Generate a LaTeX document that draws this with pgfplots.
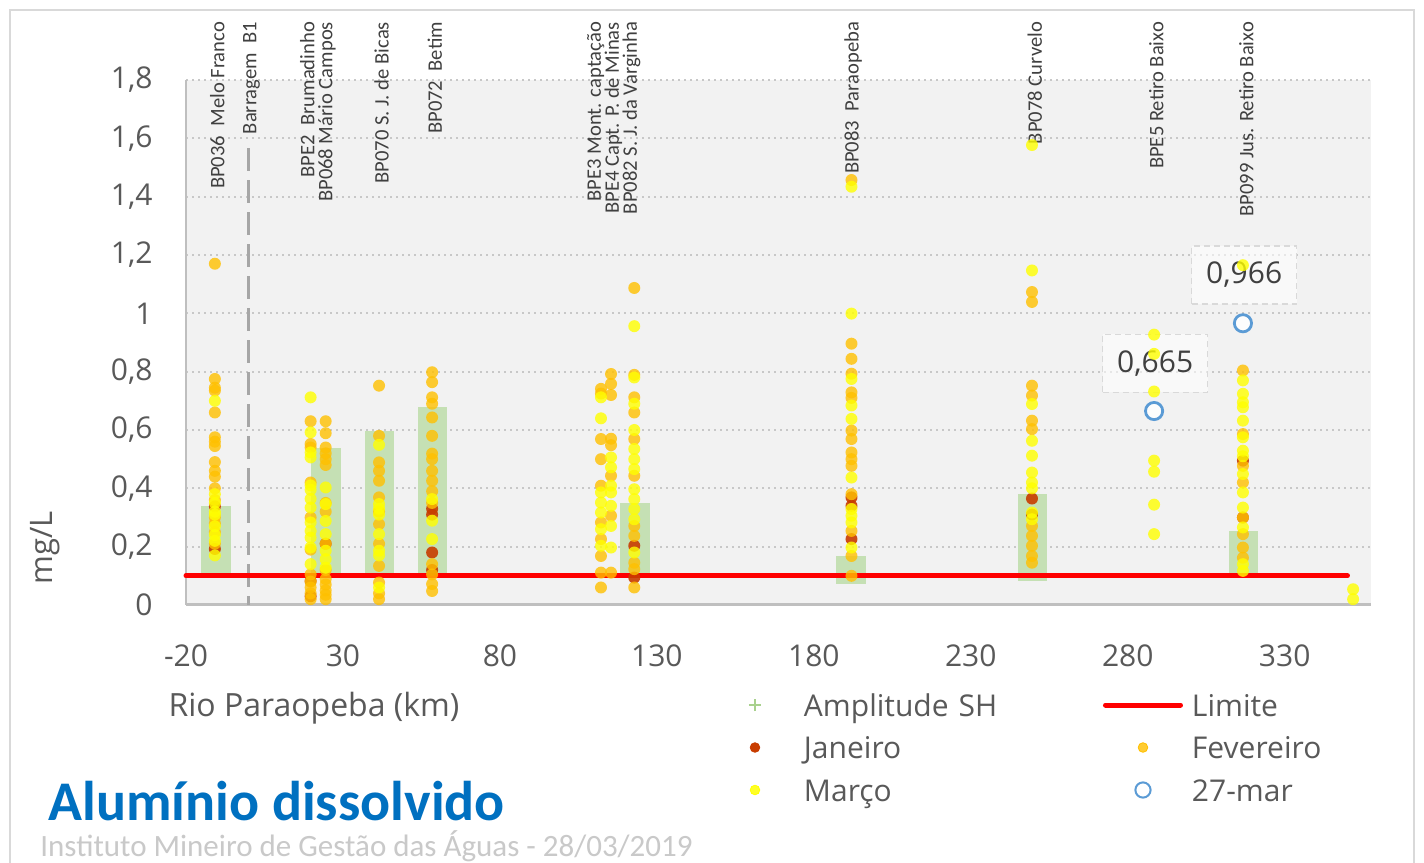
\documentclass[border=0pt]{standalone}
\usepackage{fontspec}
\setmainfont{Open Sans}
\newfontfamily\calib{Carlito}
\usepackage{pgfplots}
\pgfplotsset{compat=1.18}
\definecolor{plotbg}{HTML}{F2F2F2}
\definecolor{gridgray}{HTML}{C8C8C8}
\definecolor{axisgray}{HTML}{BFBFBF}
\definecolor{labelgray}{HTML}{595959}
\definecolor{darktext}{HTML}{404040}
\definecolor{ampgreen}{HTML}{C5E0B4}
\definecolor{ampgreenD}{HTML}{A9D18E}
\definecolor{jancol}{HTML}{C83C00}
\definecolor{fevcol}{HTML}{FFC000}
\definecolor{marcol}{HTML}{FFFF00}
\definecolor{mar27}{HTML}{5B9BD5}
\definecolor{limred}{HTML}{FF0000}
\definecolor{dashgray}{HTML}{A6A6A6}
\definecolor{boxgray}{HTML}{D9D9D9}
\definecolor{titleblue}{HTML}{0070C0}
\definecolor{footgray}{HTML}{C9C9C9}
\definecolor{bordergray}{HTML}{D9D9D9}
\begin{document}
\begin{tikzpicture}
\useasboundingbox (0,0) rectangle (712pt,431pt);
\fill[white] (0,0) rectangle (712pt,431pt);
\draw[bordergray, line width=1pt] (5pt,-5pt) -- (5pt,425.75pt) -- (707pt,425.75pt) -- (707pt,-5pt);
\begin{axis}[
  scale only axis, width=592.5pt, height=262.5pt,
  at={(93pt,128.5pt)}, anchor=south west,
  xmin=-20, xmax=357.5, ymin=0, ymax=1.8,
  axis x line*=bottom, axis y line*=left,
  x axis line style={-, draw=axisgray, line width=1.5pt},
  y axis line style={-, draw=axisgray, line width=1pt},
  axis background/.style={fill=plotbg},
  xtick={-20,30,80,130,180,230,280,330},
  ytick={0,0.2,0.4,0.6,0.8,1,1.2,1.4,1.6,1.8},
  ymajorgrids,
  major grid style={draw=gridgray, line width=1pt, dash pattern=on 1pt off 2pt},
  major tick length=0pt, tick style={draw=none},
  ticklabel style={font=\fontsize{15}{18}\selectfont, text=labelgray},
  yticklabel style={anchor=east, inner sep=0pt, xshift=-16.5pt},
  xticklabel style={anchor=north, inner sep=0pt, yshift=-19.5pt},
  /pgf/number format/.cd, use comma, assume math mode=true, /pgfplots/.cd,
  xlabel={Rio Paraopeba (km)},
  xlabel style={at={(axis description cs:0.108,-0.196)}, anchor=center, font=\fontsize{16}{19}\selectfont, text=labelgray},
  ylabel={mg/L},
  ylabel style={at={(axis description cs:-0.119,0.1086)}, anchor=center, font=\fontsize{15.5}{18}\selectfont, text=labelgray},
  clip=false,
  legend columns=2,
  legend cell align=left,
  legend style={at={(axis description cs:0.4464,-0.16)}, anchor=north west,
    draw=none, fill=none, inner sep=0pt, outer sep=0pt,
    font=\fontsize{15}{18}\selectfont,
    column sep=0pt, row sep=5.25pt,
    nodes={inner sep=0pt, text height=13.5pt, text depth=2.5pt, text width=149.5pt, align=left, text=labelgray}},
]
% Amplitude SH (range bars)
\addplot[fill=ampgreen, draw=none, forget plot] coordinates {(-15.2,0.10) (-5.8,0.10) (-5.8,0.340) (-15.2,0.340)};
\addplot[fill=ampgreen, draw=none, forget plot] coordinates {(19.9,0.10) (29.3,0.10) (29.3,0.537) (19.9,0.537)};
\addplot[fill=ampgreen, draw=none, forget plot] coordinates {(36.9,0.10) (46.3,0.10) (46.3,0.595) (36.9,0.595)};
\addplot[fill=ampgreen, draw=none, forget plot] coordinates {(53.9,0.10) (63.3,0.10) (63.3,0.678) (53.9,0.678)};
\addplot[fill=ampgreen, draw=none, forget plot] coordinates {(118.3,0.10) (127.7,0.10) (127.7,0.351) (118.3,0.351)};
\addplot[fill=ampgreen, draw=none, forget plot] coordinates {(187.2,0.072) (196.6,0.072) (196.6,0.168) (187.2,0.168)};
\addplot[fill=ampgreen, draw=none, forget plot] coordinates {(245.0,0.082) (254.4,0.082) (254.4,0.382) (245.0,0.382)};
\addplot[fill=ampgreen, draw=none, forget plot] coordinates {(312.2,0.10) (321.6,0.10) (321.6,0.252) (312.2,0.252)};
% Barragem B1
\addplot[dashgray, line width=1.6pt, dash pattern=on 11.5pt off 4.5pt, forget plot] coordinates {(0,1.566) (0,0)};
% Janeiro
\addplot[color=jancol, only marks, mark=*, mark size=3pt, mark options={draw opacity=0, fill=jancol, fill opacity=0.9}, forget plot] coordinates {
(-10.8,0.338) (-10.8,0.192) (19.7,0.082) (19.7,0.030) (24.5,0.210)
(58.4,0.330) (58.4,0.310) (58.4,0.180) (58.4,0.120)
(122.8,0.203) (122.8,0.094) (192,0.369) (192,0.340) (192,0.226)
(249.5,0.365) (249.5,0.310) (316.7,0.495) (316.7,0.300)};
% Fevereiro
\addplot[color=fevcol, only marks, mark=*, mark size=3pt, mark options={draw opacity=0, fill=fevcol, fill opacity=0.8}, forget plot] coordinates {
(-10.8,1.170) (-10.8,0.775) (-10.8,0.745) (-10.8,0.735) (-10.8,0.660) (-10.8,0.575) (-10.8,0.560) (-10.8,0.545) (-10.8,0.490) (-10.8,0.460) (-10.8,0.440) (-10.8,0.400) (-10.8,0.360) (-10.8,0.300) (-10.8,0.280) (-10.8,0.250) (-10.8,0.210)
(19.7,0.630) (19.7,0.552) (19.7,0.540) (19.7,0.420) (19.7,0.300) (19.7,0.190) (19.7,0.105) (19.7,0.080) (19.7,0.060) (19.7,0.040) (19.7,0.020)
(24.5,0.630) (24.5,0.589) (24.5,0.540) (24.5,0.520) (24.5,0.500) (24.5,0.480) (24.5,0.350) (24.5,0.320) (24.5,0.210) (24.5,0.120) (24.5,0.089) (24.5,0.070) (24.5,0.050) (24.5,0.035) (24.5,0.020)
(41.5,0.752) (41.5,0.580) (41.5,0.489) (41.5,0.460) (41.5,0.426) (41.5,0.369) (41.5,0.320) (41.5,0.277) (41.5,0.210) (41.5,0.134) (41.5,0.077) (41.5,0.040) (41.5,0.020)
(58.4,0.798) (58.4,0.764) (58.4,0.712) (58.4,0.690) (58.4,0.643) (58.4,0.580) (58.4,0.519) (58.4,0.500) (58.4,0.460) (58.4,0.426) (58.4,0.390) (58.4,0.350) (58.4,0.140) (58.4,0.105) (58.4,0.072) (58.4,0.048)
(112.2,0.741) (112.2,0.725) (112.2,0.569) (112.2,0.500) (112.2,0.409) (112.2,0.283) (112.2,0.226) (112.2,0.168) (112.2,0.111) (112.2,0.060)
(115.4,0.792) (115.4,0.758) (115.4,0.720) (115.4,0.570) (115.4,0.548) (115.4,0.443) (115.4,0.306) (115.4,0.111)
(122.8,1.087) (122.8,0.789) (122.8,0.712) (122.8,0.660) (122.8,0.569) (122.8,0.443) (122.8,0.271) (122.8,0.237) (122.8,0.145) (122.8,0.123) (122.8,0.060)
(192,1.457) (192,0.896) (192,0.844) (192,0.793) (192,0.729) (192,0.710) (192,0.598) (192,0.569) (192,0.523) (192,0.500) (192,0.477) (192,0.380) (192,0.254) (192,0.168) (192,0.100)
(249.5,1.073) (249.5,1.039) (249.5,0.752) (249.5,0.718) (249.5,0.632) (249.5,0.603) (249.5,0.271) (249.5,0.237) (249.5,0.203) (249.5,0.168) (249.5,0.145)
(316.7,0.804) (316.7,0.586) (316.7,0.477) (316.7,0.420) (316.7,0.300) (316.7,0.243) (316.7,0.197) (316.7,0.162)};
% Marco
\addplot[color=marcol, only marks, mark=*, mark size=3pt, mark options={draw opacity=0, fill=marcol, fill opacity=0.8}, forget plot] coordinates {
(-10.8,0.700) (-10.8,0.380) (-10.8,0.350) (-10.8,0.320) (-10.8,0.310) (-10.8,0.270) (-10.8,0.240) (-10.8,0.220) (-10.8,0.170)
(19.7,0.712) (19.7,0.592) (19.7,0.523) (19.7,0.506) (19.7,0.410) (19.7,0.395) (19.7,0.364) (19.7,0.334) (19.7,0.283) (19.7,0.254) (19.7,0.231) (19.7,0.197) (19.7,0.140)
(24.5,0.403) (24.5,0.346) (24.5,0.288) (24.5,0.243) (24.5,0.186) (24.5,0.157) (24.5,0.128)
(41.5,0.549) (41.5,0.346) (41.5,0.330) (41.5,0.310) (41.5,0.243) (41.5,0.186) (41.5,0.170) (41.5,0.060)
(58.4,0.363) (58.4,0.289) (58.4,0.226)
(112.2,0.712) (112.2,0.640) (112.2,0.386) (112.2,0.351) (112.2,0.317) (112.2,0.260) (112.2,0.203)
(115.4,0.506) (115.4,0.472) (115.4,0.409) (115.4,0.386) (115.4,0.340) (115.4,0.271) (115.4,0.197)
(122.8,0.956) (122.8,0.780) (122.8,0.690) (122.8,0.600) (122.8,0.535) (122.8,0.500) (122.8,0.466) (122.8,0.397) (122.8,0.363) (122.8,0.329) (122.8,0.294) (122.8,0.180)
(192,1.434) (192,0.999) (192,0.775) (192,0.684) (192,0.638) (192,0.437) (192,0.329) (192,0.306) (192,0.283) (192,0.197)
(249.5,1.577) (249.5,1.147) (249.5,0.689) (249.5,0.563) (249.5,0.512) (249.5,0.454) (249.5,0.420) (249.5,0.400) (249.5,0.317) (249.5,0.294)
(288.4,0.927) (288.4,0.861) (288.4,0.732) (288.4,0.495) (288.4,0.457) (288.4,0.344) (288.4,0.243)
(316.7,1.165) (316.7,0.770) (316.7,0.724) (316.7,0.695) (316.7,0.678) (316.7,0.632) (316.7,0.575) (316.7,0.529) (316.7,0.510) (316.7,0.449) (316.7,0.386) (316.7,0.334) (316.7,0.266) (316.7,0.140) (316.7,0.117)
(351.8,0.054) (351.8,0.020)};
% Limite
\addplot[limred, line width=2.5pt, line cap=round, forget plot] coordinates {(-20,0.1) (350,0.1)};
% 27-mar
\addplot[color=mar27, only marks, mark=*, mark size=4.3pt, mark options={draw=mar27, fill=white, fill opacity=0.9, line width=1.4pt}, forget plot] coordinates {(288.4,0.665) (316.7,0.966)};
% data labels
\node[draw=boxgray, dash pattern=on 3pt off 2pt, line width=0.75pt, fill=white, fill opacity=0.55, text opacity=1, minimum width=52.5pt, minimum height=29pt, inner sep=0pt, font=\fontsize{15}{18}\selectfont, text=darktext] at (axis cs:288.75,0.828) {0,665};
\node[draw=boxgray, dash pattern=on 3pt off 2pt, line width=0.75pt, fill=white, fill opacity=0.55, text opacity=1, minimum width=52.5pt, minimum height=29pt, inner sep=0pt, font=\fontsize{15}{18}\selectfont, text=darktext] at (axis cs:317.1,1.132) {0,966};
% station labels
\begin{scope}[every node/.style={rotate=90, anchor=east, inner sep=0pt, align=right, text=darktext, font=\calib\fontsize{10.3}{9}\selectfont}]
\node at (axis cs:-10,2.0) {BP036\ \ Melo Franco};
\node at (axis cs:0.9,2.0) {Barragem\ \ B1};
\node at (axis cs:22,2.0) {BPE2\ \ Brumadinho\\BP068 Mário Campos};
\node at (axis cs:42.3,2.0) {BP070 S. J. de Bicas};
\node at (axis cs:59.3,2.0) {BP072\ \ Betim};
\node at (axis cs:116.3,2.0) {BPE3 Mont. captação\\BPE4 Capt. P. de Minas\\BP082 S. J. da Varginha};
\node at (axis cs:192.5,2.0) {BP083\ \ Paraopeba};
\node at (axis cs:250.4,2.0) {BP078 Curvelo};
\node at (axis cs:289.1,2.0) {BPE5 Retiro Baixo};
\node at (axis cs:317.8,2.0) {BP099 Jus. Retiro Baixo};
\end{scope}
% legend
\addlegendimage{legend image code/.code={\path[draw=none, fill=none] (-20pt,0pt) -- (24.5pt,0pt); \draw[ampgreenD, line width=1.4pt] (-3pt,0pt) -- (3pt,0pt) (0pt,-3pt) -- (0pt,3pt);}}
\addlegendentry{Amplitude SH}
\addlegendimage{legend image code/.code={\path[draw=none, fill=none] (-20pt,0pt) -- (24.5pt,0pt); \draw[limred, line width=2.5pt, line cap=round] (-18.75pt,0pt) -- (18.75pt,0pt);}}
\addlegendentry{Limite}
\addlegendimage{legend image code/.code={\path[draw=none, fill=none] (-20pt,0pt) -- (24.5pt,0pt); \fill[jancol] (0pt,0pt) circle (2.4pt);}}
\addlegendentry{Janeiro}
\addlegendimage{legend image code/.code={\path[draw=none, fill=none] (-20pt,0pt) -- (24.5pt,0pt); \fill[fevcol, fill opacity=0.8] (0pt,0pt) circle (2.4pt);}}
\addlegendentry{Fevereiro}
\addlegendimage{legend image code/.code={\path[draw=none, fill=none] (-20pt,0pt) -- (24.5pt,0pt); \fill[marcol, fill opacity=0.85] (0pt,0pt) circle (2.4pt);}}
\addlegendentry{Março}
\addlegendimage{legend image code/.code={\path[draw=none, fill=none] (-20pt,0pt) -- (24.5pt,0pt); \draw[mar27, line width=1pt, fill=white] (0pt,0pt) circle (3.8pt);}}
\addlegendentry{27-mar}
\end{axis}
\node[anchor=base west, inner sep=0pt, font=\calib\bfseries\fontsize{28}{30}\selectfont, text=titleblue] at (24pt,20.5pt) {Alumínio dissolvido};
\node[anchor=base west, inner sep=0pt, font=\calib\fontsize{15.5}{18}\selectfont, text=footgray] at (20pt,2.5pt) {Instituto Mineiro de Gestão das Águas - 28/03/2019};
\end{tikzpicture}
\end{document}
